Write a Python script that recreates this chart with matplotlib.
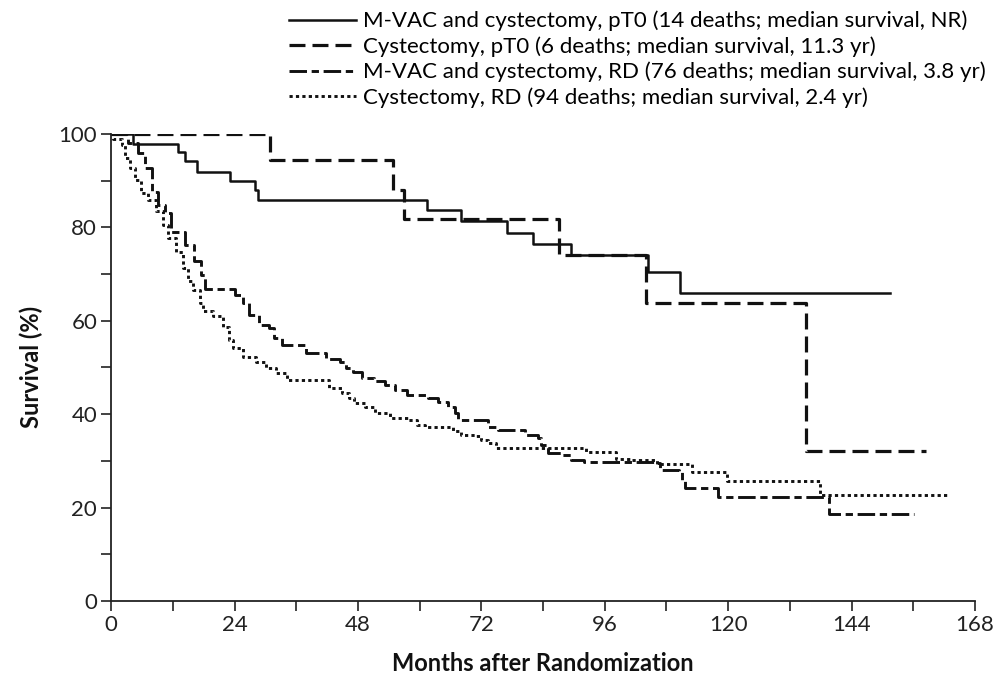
import numpy as np
import matplotlib
matplotlib.use('Agg')
import matplotlib.pyplot as plt
from matplotlib.ticker import MultipleLocator

plt.rcParams['font.family'] = ['Lato', 'DejaVu Sans']

# Kaplan-Meier step data (months, survival %)
mvac_pt0_t = [0, 4.2, 13.0, 14.3, 16.8, 23.2, 27.9, 28.5, 61.4, 68.1, 77.0, 82.0, 89.4, 104.4, 110.7, 151.5]
mvac_pt0_s = [100, 97.8, 96.1, 94.1, 91.9, 89.8, 87.9, 85.8, 83.6, 81.4, 78.7, 76.4, 74.1, 70.4, 66.0, 66.0]

cyst_pt0_t = [0, 30.9, 54.9, 57.0, 87.2, 104.1, 135.2, 158.4]
cyst_pt0_s = [100, 94.3, 88.0, 81.8, 74.1, 63.7, 32.0, 32.0]

mvac_rd_t = [0, 3.3, 5.2, 6.6, 7.9, 9.2, 10.4, 11.7, 14.3, 16.2, 17.5, 18.2, 24.0, 25.6, 26.9,
             28.8, 30.8, 31.7, 33.3, 37.9, 41.7, 44.6, 45.6, 47.0, 48.8, 51.1, 53.3, 55.3, 57.5,
             61.7, 63.6, 65.6, 66.9, 67.5, 73.3, 75.2, 80.4, 83.0, 83.6, 84.9, 87.5, 89.4, 92.0,
             105.5, 106.8, 110.4, 111.0, 111.7, 118.1, 139.7, 156.2]
mvac_rd_s = [100, 98.0, 96.0, 92.7, 87.6, 84.8, 83.0, 79.0, 76.2, 72.7, 69.8, 66.7, 65.5, 63.7, 61.2,
             59.1, 58.4, 56.3, 54.8, 53.0, 51.8, 51.2, 49.8, 49.1, 47.7, 47.0, 46.3, 45.2, 44.0,
             43.4, 42.7, 41.6, 40.2, 38.8, 37.3, 36.6, 35.5, 34.8, 33.4, 31.6, 31.3, 30.2, 29.8,
             29.5, 28.0, 27.7, 25.9, 24.2, 22.2, 18.7, 18.7]

cyst_rd_t = [0, 0.4, 2.1, 2.7, 3.7, 4.6, 5.9, 7.2, 8.8, 10.1, 11.1, 12.7, 14.0, 15.0, 15.9, 17.2,
             17.9, 19.8, 21.7, 23.0, 23.7, 25.6, 28.2, 30.1, 32.0, 34.3, 42.4, 44.9, 46.2, 47.2,
             49.4, 51.4, 54.3, 57.8, 59.4, 61.0, 66.5, 68.1, 70.7, 72.0, 73.3, 74.9, 92.3, 98.1,
             101.0, 106.2, 113.0, 119.7, 137.9, 162.9]
cyst_rd_s = [100, 99.0, 97.6, 94.9, 92.7, 90.1, 87.4, 85.9, 83.4, 80.5, 77.7, 74.8, 71.2, 68.4, 66.6, 63.7,
             62.0, 60.9, 58.7, 55.9, 54.1, 52.3, 51.2, 49.8, 48.8, 47.3, 45.5, 44.6, 43.4, 42.3,
             41.6, 40.2, 39.1, 38.8, 37.7, 37.3, 36.3, 35.5, 35.3, 34.5, 33.8, 32.7, 31.8, 30.5,
             30.2, 29.3, 27.7, 25.6, 22.6, 22.6]

labels = ['M-VAC and cystectomy, pT0 (14 deaths; median survival, NR)',
          'Cystectomy, pT0 (6 deaths; median survival, 11.3 yr)',
          'M-VAC and cystectomy, RD (76 deaths; median survival, 3.8 yr)',
          'Cystectomy, RD (94 deaths; median survival, 2.4 yr)']

fig = plt.figure(figsize=(10.01, 6.78), dpi=100)
ax = fig.add_axes([0.111, 0.1136, 0.863, 0.689])

ax.step(mvac_pt0_t, mvac_pt0_s, where='post', color='#111111', lw=1.8, label=labels[0])
ax.step(cyst_pt0_t, cyst_pt0_s, where='post', color='#111111', lw=2.3, dashes=(5, 2.2), label=labels[1])
ax.step(mvac_rd_t, mvac_rd_s, where='post', color='#111111', lw=2.1, dashes=(6, 1.6, 2.5, 1.6), label=labels[2])
ax.step(cyst_rd_t, cyst_rd_s, where='post', color='#111111', lw=2.1, dashes=(1.1, 1.1), label=labels[3])

ax.set_xlim(0, 168)
ax.set_ylim(0, 100)
ax.xaxis.set_major_locator(MultipleLocator(24))
ax.xaxis.set_minor_locator(MultipleLocator(12))
ax.yaxis.set_major_locator(MultipleLocator(20))
ax.yaxis.set_minor_locator(MultipleLocator(10))
ax.tick_params(which='both', direction='out', length=7, width=1.2, color='#222222')
ax.tick_params(axis='both', labelsize=16, pad=3, labelcolor='#222222')
for side in ['top', 'right']:
    ax.spines[side].set_visible(False)
for side in ['left', 'bottom']:
    ax.spines[side].set_linewidth(1.3)
    ax.spines[side].set_color('#222222')

ax.set_xlabel('Months after Randomization', fontsize=17, fontweight='bold', labelpad=12, color='#111111')
ax.set_ylabel('Survival (%)', fontsize=17, fontweight='bold', labelpad=11, color='#111111')

fig.legend(loc='upper left', bbox_to_anchor=(0.289, 0.984), frameon=False, fontsize=16,
           handlelength=3.0, handletextpad=0.3, labelspacing=0.22, borderpad=0, borderaxespad=0)

fig.savefig('out.png', dpi=100)
